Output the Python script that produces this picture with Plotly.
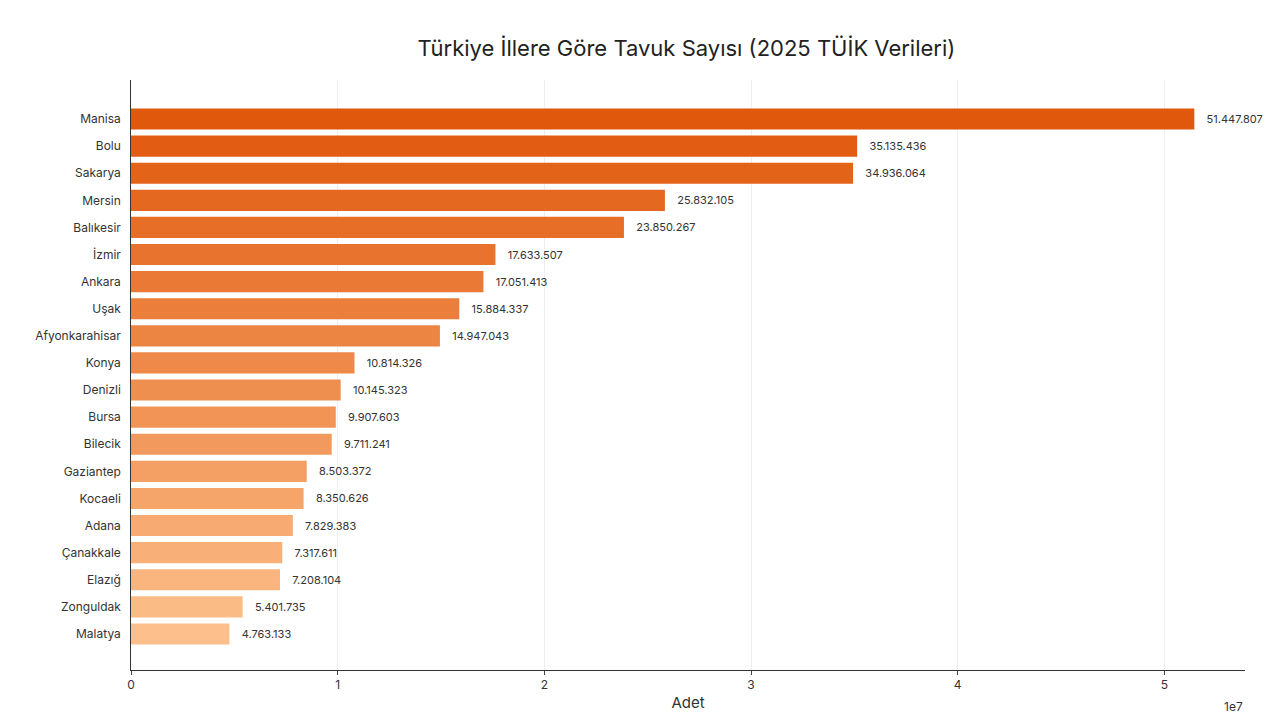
import plotly.graph_objects as go

# data (2025 TÜİK)
iller = ["Manisa", "Bolu", "Sakarya", "Mersin", "Balıkesir", "İzmir", "Ankara", "Uşak",
         "Afyonkarahisar", "Konya", "Denizli", "Bursa", "Bilecik", "Gaziantep", "Kocaeli",
         "Adana", "Çanakkale", "Elazığ", "Zonguldak", "Malatya"]
tavuk = [51447807, 35135436, 34936064, 25832105, 23850267, 17633507, 17051413, 15884337,
         14947043, 10814326, 10145323, 9907603, 9711241, 8503372, 8350626,
         7829383, 7317611, 7208104, 5401735, 4763133]
x_ticks = [0, 1e7, 2e7, 3e7, 4e7, 5e7]
x_tick_labels = ["0", "1", "2", "3", "4", "5"]


def fmt(v):
    return "   " + f"{v:,}".replace(",", ".")


def lerp_color(t):
    c0 = (0xE0, 0x58, 0x0C)
    c1 = (0xFD, 0xC0, 0x8C)
    r, g, b = [round(a + (b - a) * t) for a, b in zip(c0, c1)]
    return f"rgb({r},{g},{b})"


n = len(iller)
colors = [lerp_color(i / (n - 1)) for i in range(n)]

fig = go.Figure(go.Bar(
    x=tavuk, y=iller, orientation="h",
    marker=dict(color=colors, line=dict(width=0)),
    text=[fmt(v) for v in tavuk], textposition="outside",
    textfont=dict(size=11, color="#333"), cliponaxis=False,
    width=0.78,
))

fig.update_layout(
    width=1280, height=720,
    paper_bgcolor="white", plot_bgcolor="white",
    font=dict(family="Inter, Roboto, sans-serif", color="#333"),
    title=dict(text="Türkiye İllere Göre Tavuk Sayısı (2025 TÜİK Verileri)",
               x=0.53, xanchor="center", y=0.955, font=dict(size=22, color="#222")),
    margin=dict(l=123, r=43, t=72, b=58),
    showlegend=False,
    annotations=[dict(text="1e7", xref="paper", yref="paper", x=1.0, y=-0.045,
                      xanchor="right", yanchor="top", showarrow=False,
                      font=dict(size=12, color="#333"))],
)
fig.update_xaxes(range=[0, 5.39e7], tickvals=x_ticks, ticktext=x_tick_labels,
                 showgrid=True, gridcolor="#eeeeee", zeroline=False, automargin=False,
                 showline=True, linecolor="#333", ticks="outside", ticklen=4,
                 tickfont=dict(size=12),
                 title=dict(text="Adet", font=dict(size=15), standoff=6))
fig.update_yaxes(autorange=False, showline=True, linecolor="#333", automargin=False,
                 showgrid=False, ticks="", tickfont=dict(size=12), ticksuffix="  ",
                 range=[n - 0.5 + 0.83, -0.5 - 0.94])

fig.write_html("out.html")
